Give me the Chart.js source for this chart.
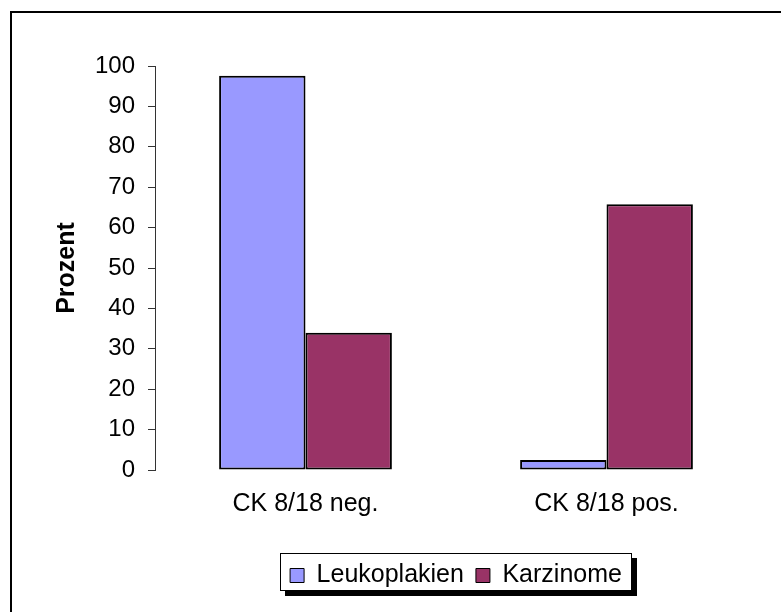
<!DOCTYPE html>
<html>
<head>
<meta charset="utf-8">
<script src="https://cdn.jsdelivr.net/npm/chart.js@4/dist/chart.umd.min.js"></script>
<style>
  html, body { margin: 0; padding: 0; background: #fff; overflow: hidden; }
  #frame { position: absolute; left: 10px; top: 11px; width: 800px; height: 700px; border: 2px solid #000; }
  #wrap { position: absolute; left: 0; top: 0; width: 781px; height: 612px; }
</style>
</head>
<body>
<div id="frame"></div>
<div id="wrap"><canvas id="chart"></canvas></div>
<script>
/* ===== Data ===== */
const categories = ['CK 8/18 neg.', 'CK 8/18 pos.'];
const seriesNames = ['Leukoplakien', 'Karzinome'];
const leukoplakien = [97.6, 2.5];
const karzinome = [34, 65.8];
const yMin = 0;
const yMax = 100;
const yStep = 10;

const FONT = 'Liberation Sans, Arial, sans-serif';

// white legend box with a black drop shadow, drawn under the legend items
const legendFrame = {
  id: 'legendFrame',
  beforeDraw(chart) {
    const boxes = chart.legend.legendHitBoxes;
    if (!boxes || !boxes.length) return;
    const ctx = chart.ctx;
    const left = Math.round(Math.min(...boxes.map(b => b.left)) - 10);
    const right = Math.round(Math.max(...boxes.map(b => b.left + b.width)) + 10);
    const top = Math.round(boxes[0].top - 10);
    const bottom = Math.round(boxes[0].top + boxes[0].height + 3);
    ctx.save();
    ctx.fillStyle = '#000';
    ctx.fillRect(left + 5, top + 5, right - left, bottom - top);
    ctx.fillStyle = '#fff';
    ctx.fillRect(left, top, right - left, bottom - top);
    ctx.strokeStyle = '#000';
    ctx.lineWidth = 1;
    ctx.strokeRect(left + 0.5, top + 0.5, right - left - 1, bottom - top - 1);
    ctx.restore();
  }
};

new Chart(document.getElementById('chart'), {
  type: 'bar',
  data: {
    labels: categories,
    datasets: [
      { label: seriesNames[0], data: leukoplakien, backgroundColor: '#9999FF' },
      { label: seriesNames[1], data: karzinome, backgroundColor: '#993366' }
    ]
  },
  options: {
    responsive: true,
    maintainAspectRatio: false,
    animation: false,
    layout: { padding: { left: 0, right: 24, top: 66, bottom: 14 } },
    datasets: {
      bar: {
        borderColor: '#000',
        borderWidth: 2,
        borderSkipped: false,
        categoryPercentage: 0.574,
        barPercentage: 1
      }
    },
    scales: {
      x: {
        grid: { display: false, drawTicks: false },
        border: { display: false },
        ticks: { color: '#000', font: { family: FONT, size: 25 }, padding: 19 },
        afterFit: s => { s.height = 81; }
      },
      y: {
        min: yMin,
        max: yMax,
        ticks: { stepSize: yStep, color: '#000', font: { family: FONT, size: 24 }, padding: 13 },
        grid: { drawOnChartArea: false, drawTicks: true, tickLength: 7, color: '#333' },
        border: { display: true, color: '#333', width: 1 },
        title: {
          display: true,
          text: 'Prozent',
          color: '#000',
          font: { family: FONT, size: 25, weight: 'bold' },
          padding: { top: 52, bottom: 0 }
        },
        afterFit: s => { s.width = 155; }
      }
    },
    plugins: {
      legend: {
        position: 'bottom',
        fullSize: false,
        labels: {
          color: '#000',
          font: { family: FONT, size: 25 },
          boxWidth: 14,
          boxHeight: 14,
          padding: 12,
          generateLabels: chart => chart.data.datasets.map((ds, i) => ({
            text: ds.label,
            fillStyle: ds.backgroundColor,
            strokeStyle: '#000',
            lineWidth: 1,
            hidden: false,
            datasetIndex: i,
            fontColor: '#000'
          }))
        }
      },
      tooltip: { enabled: false }
    }
  },
  plugins: [legendFrame]
});
</script>
</body>
</html>
